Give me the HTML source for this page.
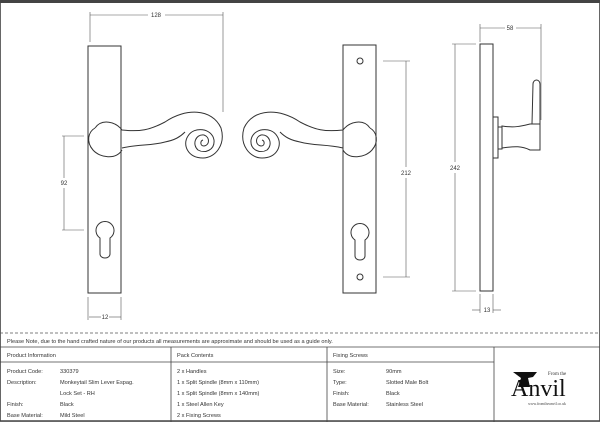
<!DOCTYPE html>
<html><head><style>
body{margin:0;background:#fff;}
svg{display:block;font-family:"Liberation Sans",sans-serif;}
</style></head><body>
<svg width="600" height="422" viewBox="0 0 600 422" xmlns="http://www.w3.org/2000/svg">
<rect x="0" y="0" width="600" height="422" fill="#fff"/>
<rect x="0.5" y="0.5" width="599" height="421" fill="none" stroke="#666" stroke-width="1"/>
<line x1="0" y1="1.5" x2="600" y2="1.5" stroke="#444" stroke-width="3"/>
<g fill="none" stroke="#333" stroke-width="1">
<!-- left plate -->
<rect x="88" y="46" width="33" height="247"/>
<path d="M100 238 A9 9 0 1 1 110 238 L110 254 A5 4 0 0 1 100 254 Z"/>
<!-- left handle -->
<g id="h">
<path d="M95 128 C102 118 116 122 122 130 C140 132 150 130 165 122 C185 108 212 108 221 128 C226 145 215 158 203 158 C188 158 182 145 188 136 C194 126 212 128 214 140 C215 150 205 154 198 150 C192 145 195 134 204 135 C210 137 210 145 204 146 C200 146 200 141 203 140"/>
<path d="M122 150 C116 160 100 158 93 150 C86 142 88 132 95 128"/>
<path d="M122 148 C140 144 150 146 165 142 C175 140 180 137 185 132"/>
</g>
<!-- right plate -->
<rect x="343" y="45" width="33" height="248"/>
<circle cx="360" cy="61" r="3"/><circle cx="360" cy="277" r="3"/>
<path d="M355 240 A9 9 0 1 1 365 240 L365 256 A5 4 0 0 1 355 256 Z"/>
<!-- right handle (mirror) -->
<g transform="translate(465,0) scale(-1,1)">
<path d="M95 128 C102 118 116 122 122 130 C140 132 150 130 165 122 C185 108 212 108 221 128 C226 145 215 158 203 158 C188 158 182 145 188 136 C194 126 212 128 214 140 C215 150 205 154 198 150 C192 145 195 134 204 135 C210 137 210 145 204 146 C200 146 200 141 203 140"/>
<path d="M122 150 C116 160 100 158 93 150 C86 142 88 132 95 128"/>
<path d="M122 148 C140 144 150 146 165 142 C175 140 180 137 185 132"/>
</g>
<!-- side view -->
<rect x="480" y="44" width="13" height="247"/>
<rect x="493" y="117" width="5" height="41"/>
<rect x="498" y="127" width="4" height="22"/>
<path d="M502 126 C515 128 522 126 530 124 L540 124 L540 150 L530 150 C522 146 515 146 502 148 Z"/>
<path d="M532 124 L533 84 a3.5 4 0 0 1 7 0 L540 124"/>
</g>
<!-- dimensions -->
<g stroke="#555" stroke-width="0.6" fill="none">
<line x1="90" y1="12" x2="90" y2="42"/><line x1="223" y1="12" x2="223" y2="112"/>
<line x1="90" y1="15" x2="148" y2="15"/><line x1="165" y1="15" x2="223" y2="15"/>
<line x1="62" y1="136" x2="84" y2="136"/><line x1="62" y1="230" x2="84" y2="230"/>
<line x1="64" y1="136" x2="64" y2="178"/><line x1="64" y1="188" x2="64" y2="230"/>
<line x1="88" y1="297" x2="88" y2="320"/><line x1="121" y1="297" x2="121" y2="320"/>
<line x1="89" y1="317" x2="101" y2="317"/><line x1="109" y1="317" x2="121" y2="317"/>
<line x1="383" y1="61" x2="410" y2="61"/><line x1="383" y1="277" x2="410" y2="277"/>
<line x1="406" y1="61" x2="406" y2="167"/><line x1="406" y1="178" x2="406" y2="277"/>
<line x1="452" y1="44" x2="476" y2="44"/><line x1="452" y1="291" x2="476" y2="291"/>
<line x1="455" y1="44" x2="455" y2="162"/><line x1="455" y1="173" x2="455" y2="291"/>
<line x1="480" y1="24" x2="480" y2="42"/><line x1="541" y1="24" x2="541" y2="120"/>
<line x1="480" y1="28" x2="505" y2="28"/><line x1="516" y1="28" x2="541" y2="28"/>
<line x1="480" y1="294" x2="480" y2="313"/><line x1="493" y1="294" x2="493" y2="313"/>
<line x1="472" y1="310" x2="480" y2="310"/><line x1="493" y1="310" x2="501" y2="310"/>
</g>
<g font-size="6" fill="#333" text-anchor="middle">
<text x="156" y="17">128</text><text x="64" y="185">92</text><text x="105" y="319">12</text>
<text x="406" y="175">212</text><text x="455" y="170">242</text><text x="510" y="30">58</text><text x="487" y="312">13</text>
</g>
<!-- table -->
<line x1="0" y1="333" x2="600" y2="333" stroke="#555" stroke-width="0.8" stroke-dasharray="3,2"/>
<g stroke="#444" stroke-width="0.8" fill="none">
<line x1="0" y1="347" x2="600" y2="347"/>
<line x1="0" y1="362" x2="494" y2="362"/>
<line x1="171" y1="347" x2="171" y2="422"/>
<line x1="327" y1="347" x2="327" y2="422"/>
<line x1="494" y1="347" x2="494" y2="422"/>
<line x1="0" y1="420.5" x2="600" y2="420.5"/>
</g>
<g font-size="5.6" fill="#333">
<text x="7" y="343">Please Note, due to the hand crafted nature of our products all measurements are approximate and should be used as a guide only.</text>
<text x="7" y="357">Product Information</text>
<text x="177" y="357">Pack Contents</text>
<text x="333" y="357">Fixing Screws</text>
<text x="7" y="373">Product Code:</text><text x="60" y="373">330379</text>
<text x="7" y="384">Description:</text><text x="60" y="384">Monkeytail Slim Lever Espag.</text>
<text x="60" y="395">Lock Set - RH</text>
<text x="7" y="406">Finish:</text><text x="60" y="406">Black</text>
<text x="7" y="417">Base Material:</text><text x="60" y="417">Mild Steel</text>
<text x="177" y="373">2 x Handles</text>
<text x="177" y="384">1 x Split Spindle (8mm x 110mm)</text>
<text x="177" y="395">1 x Split Spindle (8mm x 140mm)</text>
<text x="177" y="406">1 x Steel Allen Key</text>
<text x="177" y="417">2 x Fixing Screws</text>
<text x="333" y="373">Size:</text><text x="386" y="373">90mm</text>
<text x="333" y="384">Type:</text><text x="386" y="384">Slotted Male Bolt</text>
<text x="333" y="395">Finish:</text><text x="386" y="395">Black</text>
<text x="333" y="406">Base Material:</text><text x="386" y="406">Stainless Steel</text>
</g>
<!-- logo -->
<path d="M513 372 L537 372 L533 377 L528 378 L530 387 L518 387 L521 378 Z" fill="#111"/>
<text x="511" y="396" font-family="Liberation Serif,serif" font-size="24" fill="#111">Anvil</text>
<text x="548" y="375" font-family="Liberation Serif,serif" font-size="5" fill="#333">From the</text>
<text x="547" y="405" font-family="Liberation Serif,serif" font-size="3.8" fill="#444" text-anchor="middle">www.fromtheanvil.co.uk</text>
</svg>
</body></html>
